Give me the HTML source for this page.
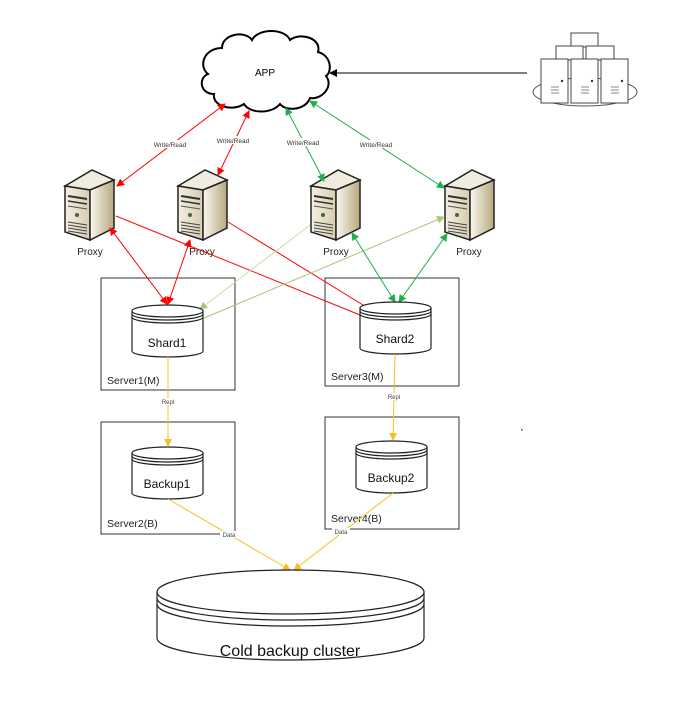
<!DOCTYPE html>
<html><head><meta charset="utf-8"><style>
html,body{margin:0;padding:0;background:#fff;width:700px;height:706px;overflow:hidden}
svg{display:block}
text{font-family:"Liberation Sans",sans-serif}
</style></head><body>
<svg width="700" height="706" viewBox="0 0 700 706" xmlns="http://www.w3.org/2000/svg">
<defs>
<linearGradient id="gf" x1="0" y1="0" x2="1" y2="0"><stop offset="0" stop-color="#f4efe2"/><stop offset="1" stop-color="#d8ccb0"/></linearGradient>
<linearGradient id="gs" x1="0" y1="0" x2="1" y2="0"><stop offset="0" stop-color="#fbf8f0"/><stop offset="1" stop-color="#b8a880"/></linearGradient>
<g id="srv">
<polygon points="0,16 27,0 49,10 25,20" fill="#f1ece0" stroke="#222" stroke-width="1.5"/>
<polygon points="0,16 25,20 25,70 0,62" fill="url(#gf)" stroke="#222" stroke-width="1.5"/>
<polygon points="25,20 49,10 49,58 25,70" fill="url(#gs)" stroke="#222" stroke-width="1.5"/>
<line x1="3" y1="26" x2="22" y2="29" stroke="#333" stroke-width="2"/>
<line x1="3" y1="31" x2="22" y2="34" stroke="#333" stroke-width="1.5"/>
<line x1="3" y1="36" x2="22" y2="39" stroke="#555" stroke-width="1"/>
<circle cx="12" cy="45" r="2" fill="#464"/>
<line x1="3" y1="52" x2="22" y2="55" stroke="#444"/><line x1="3" y1="55" x2="22" y2="58" stroke="#444"/>
<line x1="3" y1="58" x2="22" y2="61" stroke="#444"/><line x1="3" y1="61" x2="22" y2="64" stroke="#444"/>
</g>
<marker id="ar" markerWidth="8" markerHeight="8" refX="7" refY="4" orient="auto-start-reverse" markerUnits="userSpaceOnUse"><path d="M0,0 L8,4 L0,8 z" fill="#f00"/></marker>
<marker id="ag" markerWidth="8" markerHeight="8" refX="7" refY="4" orient="auto-start-reverse" markerUnits="userSpaceOnUse"><path d="M0,0 L8,4 L0,8 z" fill="#1db04d"/></marker>
<marker id="al" markerWidth="8" markerHeight="8" refX="7" refY="4" orient="auto-start-reverse" markerUnits="userSpaceOnUse"><path d="M0,0 L8,4 L0,8 z" fill="#a9c77a"/></marker>
<marker id="ay" markerWidth="8" markerHeight="8" refX="7" refY="4" orient="auto-start-reverse" markerUnits="userSpaceOnUse"><path d="M0,0 L8,4 L0,8 z" fill="#f6c01f"/></marker>
<marker id="ab" markerWidth="8" markerHeight="8" refX="7" refY="4" orient="auto" markerUnits="userSpaceOnUse"><path d="M0,0 L8,4 L0,8 z" fill="#000"/></marker>
</defs>

<!-- cloud -->
<path d="M222,48 C222,34 245,30 252,40 C258,28 285,28 290,40 C300,32 322,38 318,52 C332,56 332,72 326,76 C334,86 322,100 310,98 C306,110 286,112 280,104 C272,114 250,114 244,104 C232,112 212,106 214,94 C200,94 198,78 208,74 C198,66 204,48 222,48 Z" fill="#fff" stroke="#000" stroke-width="2"/>
<text x="265" y="76" font-size="10" text-anchor="middle">APP</text>
<line x1="527" y1="73" x2="330" y2="73" stroke="#000" stroke-width="1" marker-end="url(#ab)"/>

<!-- server cluster -->
<ellipse cx="585" cy="92" rx="52" ry="14" fill="#fff" stroke="#555" stroke-width="1"/>
<g fill="#fff" stroke="#444" stroke-width="1">
<rect x="571" y="33" width="27" height="14"/>
<rect x="556" y="46" width="27" height="14"/><rect x="586" y="46" width="28" height="14"/>
<rect x="541" y="59" width="27" height="44"/><rect x="571" y="59" width="27" height="44"/><rect x="601" y="59" width="27" height="44"/>
</g>
<g fill="#333"><circle cx="562" cy="81" r="1.2"/><circle cx="592" cy="81" r="1.2"/><circle cx="622" cy="81" r="1.2"/></g>
<g stroke="#888"><path d="M551,87h8M551,90h8M551,93h8M581,87h8M581,90h8M581,93h8M611,87h8M611,90h8M611,93h8"/></g>

<!-- proxies -->
<use href="#srv" x="65" y="170"/>
<use href="#srv" x="178" y="170"/>
<use href="#srv" x="311" y="170"/>
<use href="#srv" x="445" y="170"/>
<g font-size="10" text-anchor="middle" fill="#222">
<text x="90" y="255">Proxy</text><text x="202" y="255">Proxy</text><text x="336" y="255">Proxy</text><text x="469" y="255">Proxy</text>
</g>

<!-- top connectors -->
<g stroke-width="1">
<line x1="225" y1="104" x2="117" y2="186" stroke="#f00" marker-start="url(#ar)" marker-end="url(#ar)"/>
<line x1="249" y1="111" x2="218" y2="175" stroke="#f00" marker-start="url(#ar)" marker-end="url(#ar)"/>
<line x1="286" y1="108" x2="324" y2="181" stroke="#1db04d" marker-start="url(#ag)" marker-end="url(#ag)"/>
<line x1="310" y1="101" x2="444" y2="188" stroke="#1db04d" marker-start="url(#ag)" marker-end="url(#ag)"/>
</g>
<g font-size="6.5" text-anchor="middle" fill="#333">
<rect x="152" y="140" width="37" height="8" fill="#fff"/><text x="170" y="147">Write/Read</text>
<rect x="214" y="136" width="37" height="8" fill="#fff"/><text x="233" y="143">Write/Read</text>
<rect x="284" y="138" width="37" height="8" fill="#fff"/><text x="303" y="145">Write/Read</text>
<rect x="357" y="140" width="37" height="8" fill="#fff"/><text x="376" y="147">Write/Read</text>
</g>

<!-- boxes -->
<g fill="none" stroke="#333" stroke-width="1">
<rect x="101" y="278" width="134" height="112"/>
<rect x="325" y="278" width="134" height="108"/>
<rect x="101" y="422" width="134" height="112"/>
<rect x="325" y="417" width="134" height="112"/>
</g>
<g font-size="10.5" fill="#222">
<text x="107" y="384">Server1(M)</text><text x="331" y="380">Server3(M)</text>
<text x="107" y="527">Server2(B)</text><text x="331" y="522">Server4(B)</text>
</g>

<!-- middle connectors -->
<g stroke-width="1" fill="none">
<line x1="110" y1="228" x2="167" y2="304" stroke="#f00" marker-start="url(#ar)" marker-end="url(#ar)"/>
<line x1="190" y1="240" x2="168" y2="304" stroke="#f00" marker-start="url(#ar)" marker-end="url(#ar)"/>
<polyline points="116,216 360,315" stroke="#f00"/>
<polyline points="228,222 363,305" stroke="#f00"/>
<line x1="310" y1="225" x2="200" y2="309" stroke="#c8dcaa" marker-end="url(#al)"/>
<line x1="444" y1="217" x2="204" y2="318" stroke="#a9c77a" marker-start="url(#al)"/>
<line x1="352" y1="233" x2="395" y2="302" stroke="#1db04d" marker-start="url(#ag)" marker-end="url(#ag)"/>
<line x1="447" y1="234" x2="399" y2="302" stroke="#1db04d" marker-start="url(#ag)" marker-end="url(#ag)"/>
</g>

<!-- cylinders -->
<g fill="#fff" stroke="#222" stroke-width="1.2">
<path d="M132,311 v40 a35.5,6 0 0 0 71,0 v-40"/><ellipse cx="167.5" cy="311" rx="35.5" ry="6"/>
<path d="M132,314 a35.5,6 0 0 0 71,0 M132,317 a35.5,6 0 0 0 71,0" fill="none"/>
<path d="M360,308 v40 a35.5,6 0 0 0 71,0 v-40"/><ellipse cx="395.5" cy="308" rx="35.5" ry="6"/>
<path d="M360,311 a35.5,6 0 0 0 71,0 M360,314 a35.5,6 0 0 0 71,0" fill="none"/>
<path d="M132,453 v40 a35.5,6 0 0 0 71,0 v-40"/><ellipse cx="167.5" cy="453" rx="35.5" ry="6"/>
<path d="M132,456 a35.5,6 0 0 0 71,0 M132,459 a35.5,6 0 0 0 71,0" fill="none"/>
<path d="M356,447 v40 a35.5,6 0 0 0 71,0 v-40"/><ellipse cx="391.5" cy="447" rx="35.5" ry="6"/>
<path d="M356,450 a35.5,6 0 0 0 71,0 M356,453 a35.5,6 0 0 0 71,0" fill="none"/>
</g>
<g font-size="12" text-anchor="middle" fill="#111">
<text x="167" y="347">Shard1</text><text x="395" y="343">Shard2</text>
<text x="167" y="488">Backup1</text><text x="391" y="482">Backup2</text>
</g>

<!-- yellow -->
<g stroke="#f6c01f" stroke-width="1" fill="none">
<line x1="168" y1="357" x2="168" y2="446" marker-end="url(#ay)"/>
<line x1="395" y1="354" x2="393" y2="440" marker-end="url(#ay)"/>
<line x1="168" y1="499" x2="290" y2="570" marker-end="url(#ay)"/>
<line x1="393" y1="493" x2="294" y2="570" marker-end="url(#ay)"/>
</g>
<g font-size="6" text-anchor="middle" fill="#444">
<rect x="160" y="398" width="16" height="7" fill="#fff"/><text x="168" y="404">Repl</text>
<rect x="386" y="393" width="16" height="7" fill="#fff"/><text x="394" y="399">Repl</text>
<rect x="220" y="531" width="18" height="7" fill="#fff"/><text x="229" y="537">Data</text>
<rect x="332" y="528" width="18" height="7" fill="#fff"/><text x="341" y="534">Data</text>
</g>

<!-- cold cylinder -->
<g fill="#fff" stroke="#222" stroke-width="1.2">
<path d="M157,592 v46 a133.5,22 0 0 0 267,0 v-46"/>
<ellipse cx="290.5" cy="592" rx="133.5" ry="22"/>
<path d="M157,598 a133.5,22 0 0 0 267,0 M157,604 a133.5,22 0 0 0 267,0" fill="none"/>
</g>
<text x="290" y="656" font-size="16" text-anchor="middle" fill="#111">Cold backup cluster</text>
<rect x="521" y="429" width="1.5" height="1.5" fill="#444"/>
</svg>
</body></html>
